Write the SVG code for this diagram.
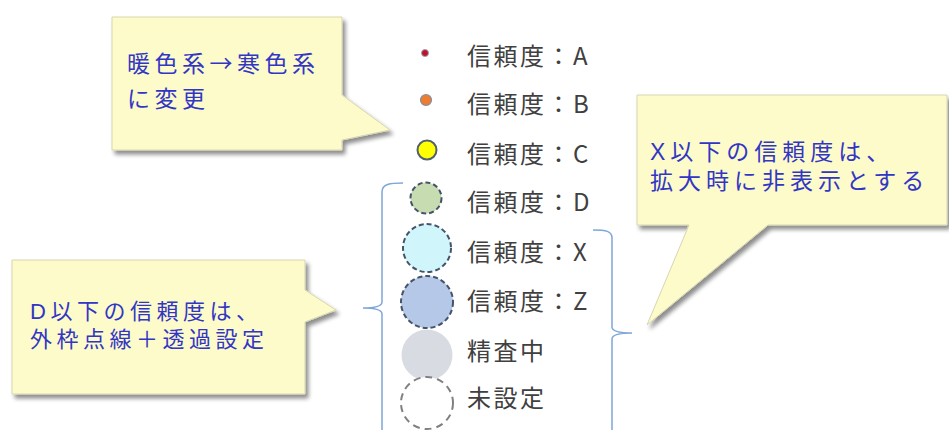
<svg xmlns="http://www.w3.org/2000/svg" width="949" height="430" viewBox="0 0 949 430">
<defs>
<filter id="sh" x="-10%" y="-10%" width="130%" height="140%">
<feGaussianBlur in="SourceAlpha" stdDeviation="2"/>
<feOffset dx="3" dy="4" result="b"/>
<feComponentTransfer><feFuncA type="linear" slope="0.45"/></feComponentTransfer>
<feMerge><feMergeNode/><feMergeNode in="SourceGraphic"/></feMerge>
</filter>
</defs>
<style>
.call{fill:#FCFBC9;stroke:#D8D6B0;stroke-width:1;filter:url(#sh)}
.ct{font-family:"Liberation Sans","Noto Sans CJK JP",sans-serif;fill:#3236C6}
.cjk{font-family:"Noto Sans CJK JP",sans-serif}
.lt{font-family:"Noto Sans CJK JP","Noto Sans",sans-serif;fill:#404040;font-size:24px;letter-spacing:2.5px}
.dash{stroke:#44546A;stroke-width:2;stroke-dasharray:5 3}
.br{fill:none;stroke:#7FA6D8;stroke-width:1.5}
</style>
<rect width="949" height="430" fill="#FFFFFF"/>

<g id="callout-color">
<path class="call" d="M112,17 H342 V95 L390,130 L342,140 V150 H112 Z"/>
<text class="ct" font-size="23" letter-spacing="4.5"><tspan x="127" y="72">暖色系<tspan class="cjk">→</tspan>寒色系</tspan><tspan x="127" y="107">に変更</tspan></text>
</g>

<g id="callout-x">
<path class="call" d="M637,95 H947 V225 H768 L647,325 L689,225 H637 Z"/>
<text class="ct" font-size="23" letter-spacing="5"><tspan x="650" y="160">X以下の信頼度は、</tspan><tspan x="650" y="189">拡大時に非表示とする</tspan></text>
</g>

<g id="callout-d">
<path class="call" d="M12,260 H305 V290 L336,310 L305,322 V394 H12 Z"/>
<text class="ct" font-size="22" letter-spacing="4.5"><tspan x="30" y="319">D以下の信頼度は、</tspan><tspan x="30" y="347">外枠点線＋透過設定</tspan></text>
</g>

<g id="connectors">
<path class="br" d="M403,183 C390,183 382,184 382,192 L382,302 C382,306 376,308 363,308 C376,308 382,310 382,314 L382,432"/>
<path class="br" d="M593,230 C606,230 612,231 612,238 L612,327 C612,331 618,333 632,333 C618,333 612,335 612,339 L612,432"/>
</g>

<g id="legend-a">
<circle cx="425" cy="53" r="3.5" fill="#C0102A" stroke="#9AA4B4" stroke-width="1"/>
<text class="lt" x="467" y="65">信頼度：A</text>
</g>
<g id="legend-b">
<circle cx="426" cy="100" r="5.5" fill="#ED7D31" stroke="#8090A4" stroke-width="1.2"/>
<text class="lt" x="467" y="113">信頼度：B</text>
</g>
<g id="legend-c">
<circle cx="427" cy="150" r="9.5" fill="#FFFF00" stroke="#506070" stroke-width="2"/>
<text class="lt" x="467" y="163">信頼度：C</text>
</g>
<g id="legend-d">
<circle class="dash" cx="426" cy="198" r="15.5" fill="#C8DCB2"/>
<text class="lt" x="467" y="211">信頼度：D</text>
</g>
<g id="legend-x">
<circle class="dash" cx="427" cy="248" r="24" fill="#D0F6FC"/>
<text class="lt" x="467" y="261">信頼度：X</text>
</g>
<g id="legend-z">
<circle class="dash" cx="427" cy="302" r="26" fill="#B6C8E8"/>
<text class="lt" x="467" y="310">信頼度：Z</text>
</g>
<g id="legend-review">
<circle cx="427" cy="355" r="25.5" fill="#D8DCE2"/>
<text class="lt" x="467" y="360">精査中</text>
</g>
<g id="legend-unset">
<circle cx="427" cy="403" r="26" fill="#FFFFFF" stroke="#808080" stroke-width="2" stroke-dasharray="7 5"/>
<text class="lt" x="467" y="407">未設定</text>
</g>
</svg>
